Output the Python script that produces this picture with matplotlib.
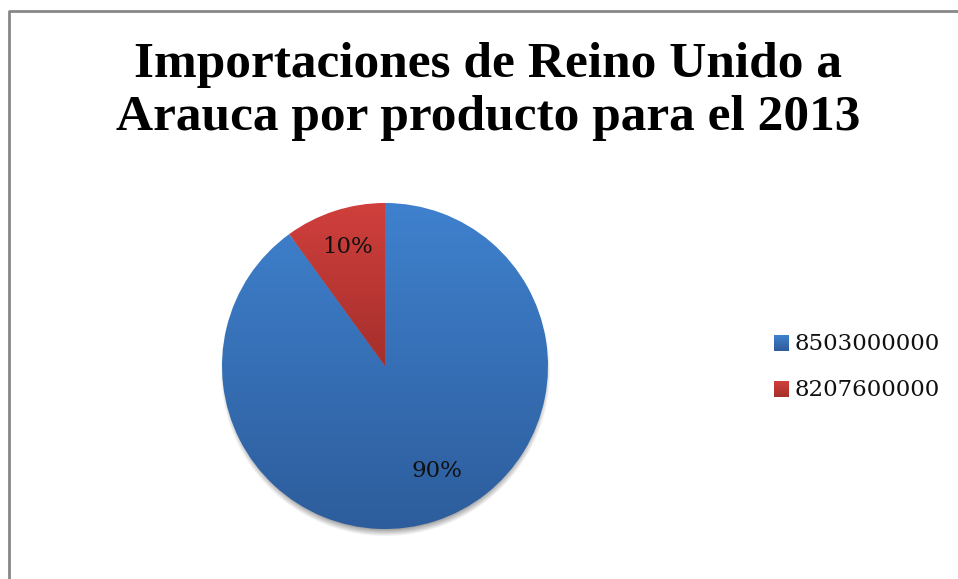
import numpy as np
import matplotlib.pyplot as plt
from matplotlib.colors import LinearSegmentedColormap

# Data
productos = ['8503000000', '8207600000']
porcentajes = [90, 10]
etiquetas = ['90%', '10%']
titulo = ['Importaciones de Reino Unido a', 'Arauca por producto para el 2013']

# colours (top, bottom) of each gradient
grad = [('#3f81ce', '#2d5d9c'), ('#d03f3c', '#a52f2c')]

W, H = 958, 579
cx, cy, R = 385, H - 366, 163

fig = plt.figure(figsize=(W / 100, H / 100), dpi=100)
ax = fig.add_axes([0, 0, 1, 1])

# frame (only top and left visible in the reference)
ax.plot([9, 9, W], [0, H - 10.5, H - 10.5], color='#878787', lw=2, solid_capstyle='butt')

# soft shadow under pie
yy, xx = np.mgrid[0:H, 0:W]
d = np.hypot(xx - cx, (H - yy) - (cy - 5))
a = np.clip((R + 2 - d) / 9, 0, 1) * 0.45
sh = np.zeros((H, W, 4))
sh[..., 3] = a
ax.imshow(sh, extent=(0, W, 0, H), origin='upper', zorder=1)

wedges, _ = ax.pie(porcentajes, startangle=90, counterclock=False, center=(cx, cy),
                   radius=R, frame=True, wedgeprops=dict(lw=0))

for w, (c1, c2) in zip(wedges, grad):
    w.set_facecolor('none')
    cmap = LinearSegmentedColormap.from_list('g', [c1, c2])
    bb = w.get_path().get_extents(w.get_transform()).transformed(ax.transData.inverted())
    g = np.linspace(0, 1, 256).reshape(-1, 1)
    im = ax.imshow(g, cmap=cmap, aspect='auto', origin='upper',
                   extent=(bb.x0, bb.x1, bb.y0, bb.y1), zorder=2)
    im.set_clip_path(w)

# percentage labels
lbl_pos = [(437, H - 471), (348, H - 247)]
for (x, y), t in zip(lbl_pos, etiquetas):
    ax.text(x, y, t, ha='center', va='center', fontsize=16.5,
            family='DejaVu Serif', color='#111111', zorder=3)

# legend
for i, (p, (c1, c2)) in enumerate(zip(productos, grad)):
    y = H - 343.5 - i * 46
    cmap = LinearSegmentedColormap.from_list('g', [c1, c2])
    ax.imshow(np.linspace(0, 1, 32).reshape(-1, 1), cmap=cmap, aspect='auto',
              extent=(774, 789, y - 8, y + 8), zorder=3)
    ax.text(795, y, p, ha='left', va='center', fontsize=16.5,
            family='DejaVu Serif', color='#111111')

# title, one text per line
for i, t in enumerate(titulo):
    ax.text(488, H - 77 - i * 53, t, ha='center', va='baseline', fontsize=37,
            fontweight='bold', family='Liberation Serif')

ax.set_xlim(0, W)
ax.set_ylim(0, H)
ax.set_aspect('auto')
ax.axis('off')

fig.savefig('out.png', dpi=100)
